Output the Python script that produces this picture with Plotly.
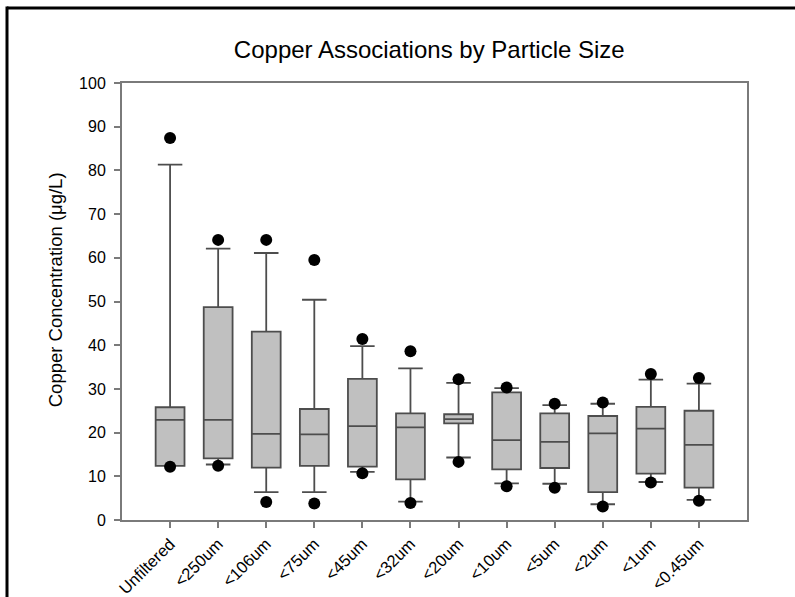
import plotly.graph_objects as go

# Copper concentration (µg/L) summary statistics per filter fraction
categories = ["Unfiltered", "<250um", "<106um", "<75um", "<45um", "<32um",
              "<20um", "<10um", "<5um", "<2um", "<1um", "<0.45um"]
q1 = [12.4, 14.1, 12.0, 12.4, 12.2, 9.3, 22.1, 11.6, 11.9, 6.4, 10.6, 7.4]
median = [22.9, 22.9, 19.7, 19.6, 21.5, 21.2, 23.1, 18.3, 17.9, 19.8, 20.9, 17.2]
q3 = [25.8, 48.7, 43.1, 25.4, 32.3, 24.4, 24.2, 29.2, 24.4, 23.8, 25.9, 25.0]
lower_whisker = [12.4, 12.7, 6.4, 6.4, 11.0, 4.2, 14.3, 8.4, 8.3, 3.6, 8.7, 4.6]
upper_whisker = [81.3, 62.1, 61.1, 50.4, 39.8, 34.7, 31.4, 30.2, 26.3, 26.6, 32.1, 31.2]
min_values = [12.2, 12.4, 4.1, 3.8, 10.7, 3.9, 13.3, 7.7, 7.4, 3.1, 8.6, 4.4]
max_values = [87.4, 64.1, 64.1, 59.5, 41.4, 38.6, 32.2, 30.3, 26.6, 26.9, 33.4, 32.5]

y_ticks = [0, 10, 20, 30, 40, 50, 60, 70, 80, 90, 100]

FONT = "Liberation Sans, Arial, sans-serif"
AXIS_GREY = "#7a7a7a"

fig = go.Figure()

fig.add_trace(go.Box(
    x=categories,
    q1=q1, median=median, q3=q3,
    lowerfence=lower_whisker, upperfence=upper_whisker,
    fillcolor="#c0c0c0",
    line=dict(color="#4d4d4d", width=1.8),
    width=0.6,
    whiskerwidth=0.85,
    boxpoints=False,
    showlegend=False,
    hoverinfo="skip",
))

# Extreme values shown as filled dots
fig.add_trace(go.Scatter(
    x=categories + categories,
    y=max_values + min_values,
    mode="markers",
    marker=dict(color="black", size=12),
    showlegend=False,
    hoverinfo="skip",
))

fig.update_layout(
    width=795, height=597,
    margin=dict(l=122, r=48, t=83, b=77, autoexpand=False),
    paper_bgcolor="white", plot_bgcolor="white",
    font=dict(family=FONT, color="black"),
    title=dict(text="Copper Associations by Particle Size",
               x=0.54, xanchor="center", y=0.917, yanchor="middle",
               font=dict(size=24, family=FONT, color="black")),
    xaxis=dict(
        type="category", range=[-1, 12], automargin=False,
        showgrid=False, zeroline=False,
        showline=True, linecolor=AXIS_GREY, linewidth=2, mirror=True,
        ticks="outside", ticklen=6, tickwidth=1.5, tickcolor=AXIS_GREY,
        tickangle=-45, tickfont=dict(size=16.5, family=FONT, color="black"),
    ),
    yaxis=dict(
        range=[0, 100], tickvals=y_ticks, automargin=False,
        showgrid=False, zeroline=False,
        showline=True, linecolor=AXIS_GREY, linewidth=2, mirror=True,
        ticks="outside", ticklen=6, tickwidth=1.5, tickcolor=AXIS_GREY,
        ticklabelstandoff=5,
        tickfont=dict(size=16, family=FONT, color="black"),
    ),
    annotations=[
        dict(text="Copper Concentration (μg/L)", textangle=-90,
             xref="paper", yref="paper", x=-0.107, y=0.526,
             xanchor="center", yanchor="middle", showarrow=False,
             font=dict(size=18.5, family=FONT, color="black")),
    ],
    shapes=[
        dict(type="line", xref="paper", yref="paper",
             x0=-0.184, x1=1.2, y0=1.1716, y1=1.1716,
             line=dict(color="black", width=3)),
        dict(type="line", xref="paper", yref="paper",
             x0=-0.184, x1=-0.184, y0=1.175, y1=-0.3,
             line=dict(color="black", width=3)),
    ],
)

fig.write_html("out.html")
